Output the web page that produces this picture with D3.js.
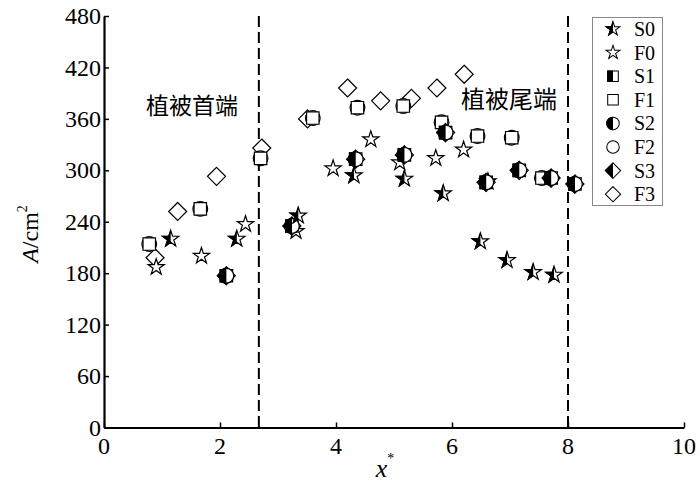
<!DOCTYPE html>
<html>
<head>
<meta charset="utf-8">
<script src="https://cdn.jsdelivr.net/npm/d3@7"></script>
<style>
  body { margin: 0; background: #fff; }
  text { font-family: "Liberation Serif", "Times New Roman", serif; fill: #000; }
  text.tick-label { font-family: "Liberation Serif", "Times New Roman", serif; font-size: 24px; }
  .cjk { font-family: "Noto Sans CJK SC", sans-serif; }
</style>
</head>
<body>
<script>
var width = 700,
    height = 485;

// values
var xTicks = [0, 2, 4, 6, 8, 10],
    yTicks = [0, 60, 120, 180, 240, 300, 360, 420, 480],
    boundaries = [2.67, 8.0];

var s0X = [1.15, 2.29, 3.35, 4.31, 5.18, 5.85, 6.49, 6.95, 7.40, 7.76],
    s0Y = [220, 220, 247, 294, 290, 273, 217, 195, 181, 178];
var f0X = [0.90, 1.68, 2.44, 3.31, 3.95, 4.60, 5.10, 5.72, 6.20, 6.62],
    f0Y = [187, 200, 237, 229, 302, 336, 309, 314, 324, 287];
var s1X = [2.11, 3.24, 4.34, 5.18, 5.89, 6.59, 7.16, 7.71, 8.12],
    s1Y = [177, 235, 313, 318, 344, 286, 300, 291, 284];
var f1X = [0.78, 1.66, 2.70, 3.60, 4.37, 5.16, 5.82, 6.44, 7.03, 7.55],
    f1Y = [214, 255, 314, 361, 373, 375, 356, 340, 338, 291];
var s2X = [2.11, 3.24, 4.34, 5.18, 5.89, 6.59, 7.16, 7.71, 8.12],
    s2Y = [177, 235, 313, 318, 344, 286, 300, 291, 284];
var f2X = [0.78, 1.66, 2.70, 3.60, 4.37, 5.16, 5.82, 6.44, 7.03, 7.55],
    f2Y = [214, 255, 314, 361, 373, 375, 356, 340, 338, 291];
var s3X = [2.11, 3.24, 4.34, 5.18, 5.89, 6.59, 7.16, 7.71, 8.12],
    s3Y = [177, 235, 313, 318, 344, 286, 300, 291, 284];
var f3X = [0.88, 1.27, 1.94, 2.72, 3.51, 4.20, 4.77, 5.30, 5.74, 6.21],
    f3Y = [198, 252, 293, 326, 360, 396, 381, 384, 396, 412];

var regionLabels = ['植被首端', '植被尾端'];

// marker shapes centred on 0,0
var shapes = {
    star: d3.symbol().type(d3.symbolStar).size(82)(),
    square: d3.symbol().type(d3.symbolSquare).size(155)(),
    circle: d3.symbol().type(d3.symbolCircle).size(170)(),
    diamond: 'M0,-9L9,0L0,9L-9,0Z'
};

var series = [
    { name: 'S0', xs: s0X, ys: s0Y, shape: 'star', half: true },
    { name: 'F0', xs: f0X, ys: f0Y, shape: 'star', half: false },
    { name: 'S1', xs: s1X, ys: s1Y, shape: 'square', half: true },
    { name: 'F1', xs: f1X, ys: f1Y, shape: 'square', half: false },
    { name: 'S2', xs: s2X, ys: s2Y, shape: 'circle', half: true },
    { name: 'F2', xs: f2X, ys: f2Y, shape: 'circle', half: false },
    { name: 'S3', xs: s3X, ys: s3Y, shape: 'diamond', half: true },
    { name: 'F3', xs: f3X, ys: f3Y, shape: 'diamond', half: false }
];

var svg = d3.select('body').append('svg')
    .attr('width', width)
    .attr('height', height);

svg.append('defs').append('clipPath')
    .attr('id', 'lefthalf')
    .append('rect')
    .attr('x', -20).attr('y', -20)
    .attr('width', 20).attr('height', 40);

var x = d3.scaleLinear().domain([0, 10]).range([104, 684]);
var y = d3.scaleLinear().domain([0, 480]).range([427.5, 16]);

// dashed region boundaries
svg.selectAll('line.bound')
    .data(boundaries)
    .enter().append('line')
    .attr('class', 'bound')
    .attr('x1', d => x(d)).attr('x2', d => x(d))
    .attr('y1', y(480)).attr('y2', y(0))
    .attr('stroke', '#000')
    .attr('stroke-width', 2)
    .attr('stroke-dasharray', '11,5');

// axes with inward ticks, labels drawn separately
var xAxis = svg.append('g')
    .attr('transform', 'translate(0,' + y(0) + ')')
    .call(d3.axisBottom(x).tickValues(xTicks).tickSizeInner(-5).tickSizeOuter(0).tickFormat(''));
var yAxis = svg.append('g')
    .attr('transform', 'translate(' + x(0) + ',0)')
    .call(d3.axisLeft(y).tickValues(yTicks).tickSizeInner(-5).tickSizeOuter(0).tickFormat(''));

[xAxis, yAxis].forEach(function (g) {
    g.attr('font-family', null).attr('font-size', null);
    g.select('.domain').attr('stroke-width', 2.2);
    g.selectAll('.tick line').attr('stroke-width', 1.5);
});

svg.append('g').selectAll('text')
    .data(xTicks)
    .enter().append('text')
    .attr('class', 'tick-label')
    .attr('x', d => x(d))
    .attr('y', y(0) + 26)
    .attr('text-anchor', 'middle')
    .text(d => d);

svg.append('g').selectAll('text')
    .data(yTicks)
    .enter().append('text')
    .attr('class', 'tick-label')
    .attr('x', x(0) - 3)
    .attr('y', d => y(d))
    .attr('dy', '0.34em')
    .attr('text-anchor', 'end')
    .text(d => d);

function drawMarker(g, s) {
    g.append('path')
        .attr('d', shapes[s.shape])
        .attr('fill', '#fff')
        .attr('stroke', '#000')
        .attr('stroke-width', 1.2);
    if (s.half) {
        g.append('path')
            .attr('d', shapes[s.shape])
            .attr('fill', '#000')
            .attr('stroke', '#000')
            .attr('stroke-width', 1.2)
            .attr('clip-path', 'url(#lefthalf)');
    }
}

// points, hollow series first
var drawOrder = ['F3', 'F2', 'F1', 'F0', 'S3', 'S1', 'S2', 'S0'];
drawOrder.forEach(function (name) {
    var s = series.find(d => d.name === name);
    var pts = s.xs.map((v, i) => [v, s.ys[i]]);
    svg.append('g').selectAll('g')
        .data(pts)
        .enter().append('g')
        .attr('transform', d => 'translate(' + x(d[0]) + ',' + y(d[1]) + ')')
        .each(function () { drawMarker(d3.select(this), s); });
});

// region labels
svg.append('text')
    .attr('class', 'cjk')
    .attr('x', 192).attr('y', 114)
    .attr('text-anchor', 'middle')
    .style('font-size', '23px')
    .text(regionLabels[0]);
svg.append('text')
    .attr('class', 'cjk')
    .attr('x', 509).attr('y', 108)
    .attr('text-anchor', 'middle')
    .style('font-size', '24px')
    .text(regionLabels[1]);

// legend
var legend = svg.append('g');
legend.append('rect')
    .attr('x', 592.5).attr('y', 17.5)
    .attr('width', 70).attr('height', 188)
    .attr('fill', '#fff')
    .attr('stroke', '#888')
    .attr('stroke-width', 1);
var items = legend.selectAll('g.item')
    .data(series)
    .enter().append('g')
    .attr('class', 'item')
    .attr('transform', (d, i) => 'translate(0,' + (29 + i * 23.6) + ')');
items.each(function (s) {
    var m = d3.select(this).append('g')
        .attr('transform', 'translate(613,0) scale(0.85)');
    drawMarker(m, s);
});
items.append('text')
    .attr('x', 634).attr('y', 0)
    .attr('dy', '0.35em')
    .style('font-size', '20px')
    .text(d => d.name);

// axis titles
var yt = svg.append('text')
    .attr('transform', 'translate(38,234) rotate(-90)')
    .attr('text-anchor', 'middle')
    .style('font-size', '24px');
yt.append('tspan').style('font-style', 'italic').text('A');
yt.append('tspan').text('/cm');
yt.append('tspan').attr('dy', -11).style('font-size', '14px').text('2');

var xt = svg.append('text')
    .attr('x', 385).attr('y', 477)
    .attr('text-anchor', 'middle')
    .style('font-size', '26px');
xt.append('tspan').style('font-style', 'italic').text('x');
xt.append('tspan').attr('dy', -14).style('font-size', '14px').text('*');
</script>
</body>
</html>
